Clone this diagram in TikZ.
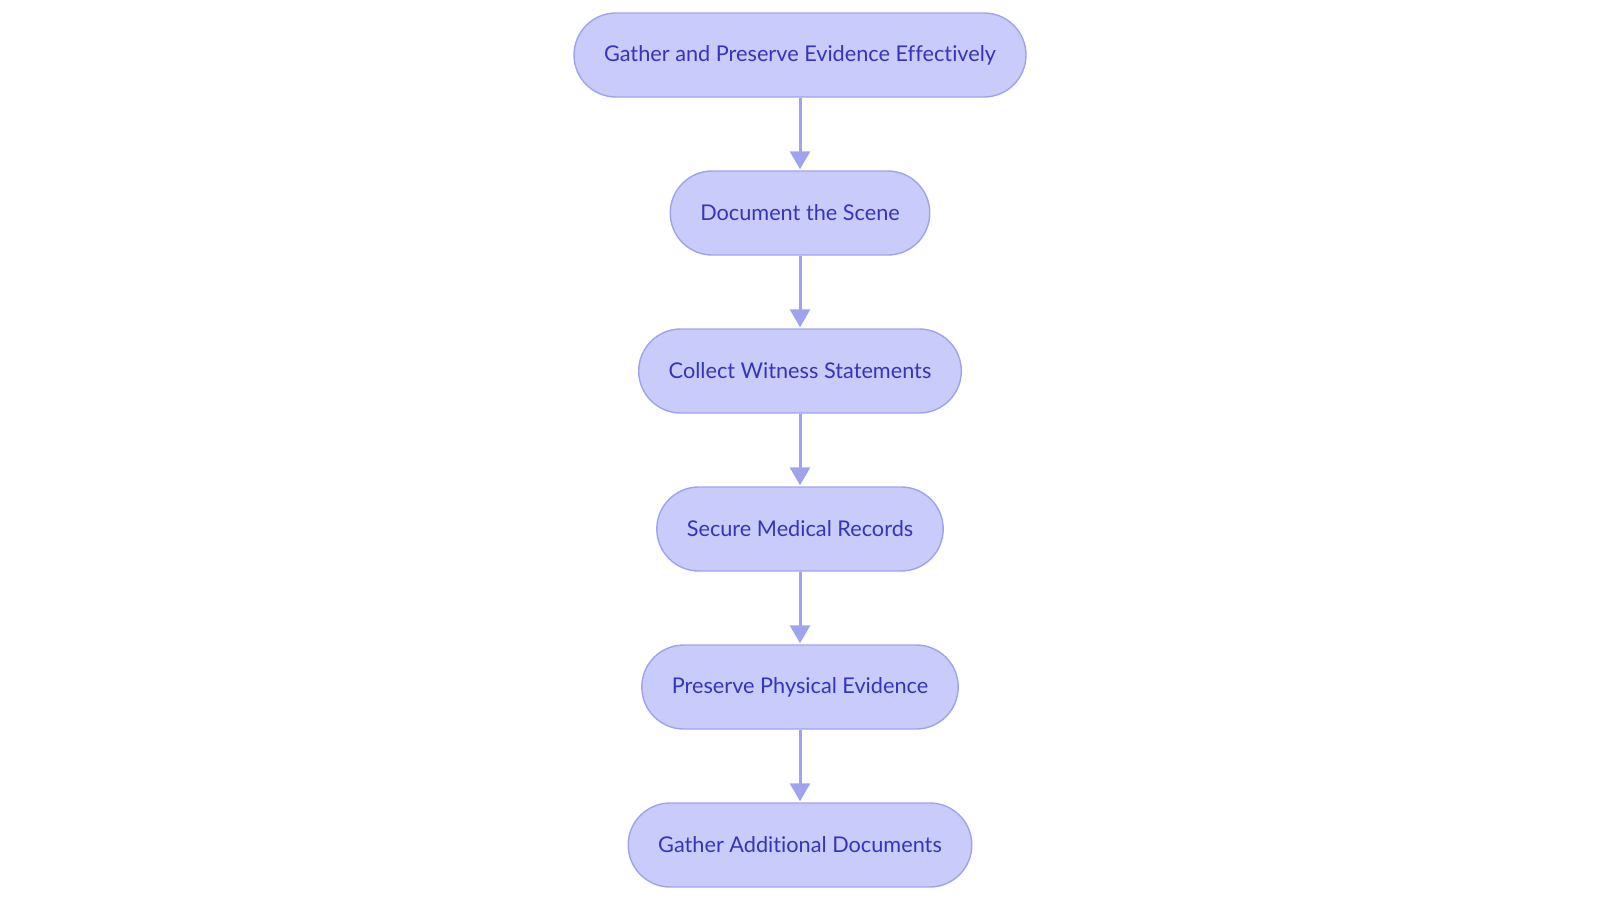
\documentclass[tikz,border=0pt]{standalone}
\usepackage{fontspec}
\setmainfont{Lato}[Ligatures=NoCommon]
\usepackage{tikz}
\usetikzlibrary{arrows.meta,positioning}
\definecolor{stepfill}{HTML}{C9CBFA}
\definecolor{stepline}{HTML}{9FA3EE}
\definecolor{steptext}{HTML}{3535BC}

\begin{document}
\begin{tikzpicture}[
  node distance=72.6pt,
  stepbox/.style={rectangle, draw=stepline, line width=1.4pt, fill=stepfill, rounded corners=42pt, minimum height=84pt, inner xsep=30pt, text=steptext, font=\fontsize{21.7}{26}\selectfont},
  arrow/.style={-{Triangle[length=18pt, width=20pt]}, draw=stepline, fill=stepline, line width=3pt, shorten >=1pt},
]
  \useasboundingbox (0,0) rectangle (1600pt,-902pt);
  \node[stepbox] (gather) at (800pt,-55pt) {Gather and Preserve Evidence Effectively};
  \node[stepbox, below=of gather] (scene) {Document the Scene};
  \node[stepbox, below=of scene] (witness) {Collect Witness Statements};
  \node[stepbox, below=of witness] (medical) {Secure Medical Records};
  \node[stepbox, below=of medical] (physical) {Preserve Physical Evidence};
  \node[stepbox, below=of physical] (additional) {Gather Additional Documents};

  \draw[arrow] (gather) -- (scene);
  \draw[arrow] (scene) -- (witness);
  \draw[arrow] (witness) -- (medical);
  \draw[arrow] (medical) -- (physical);
  \draw[arrow] (physical) -- (additional);
\end{tikzpicture}
\end{document}
